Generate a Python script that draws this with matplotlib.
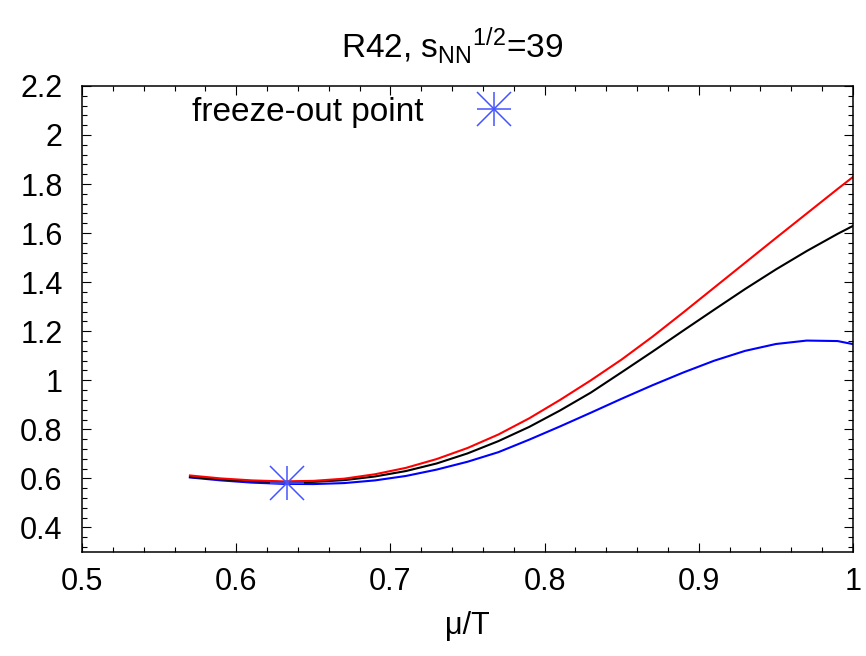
import numpy as np
import matplotlib.pyplot as plt
from matplotlib.ticker import MultipleLocator
from matplotlib.legend_handler import HandlerTuple

plt.rcParams['font.family'] = ['Liberation Sans', 'DejaVu Sans']
plt.rcParams['mathtext.fontset'] = 'custom'
plt.rcParams['mathtext.rm'] = 'Liberation Sans'

# mu/T grid and the three R42 curves
mu_T = [0.57, 0.59, 0.61, 0.63, 0.65, 0.67, 0.69, 0.71, 0.73, 0.75, 0.77, 0.79,
        0.81, 0.83, 0.85, 0.87, 0.89, 0.91, 0.93, 0.95, 0.97, 0.99, 1.01]
r42_red = [0.612, 0.600, 0.592, 0.588, 0.590, 0.599, 0.617, 0.643, 0.679, 0.724, 0.779, 0.845,
           0.920, 1.000, 1.085, 1.178, 1.277, 1.378, 1.479, 1.580, 1.680, 1.780, 1.878]
r42_black = [0.606, 0.596, 0.589, 0.585, 0.586, 0.593, 0.608, 0.630, 0.661, 0.702, 0.752, 0.810,
             0.877, 0.950, 1.033, 1.117, 1.203, 1.288, 1.372, 1.452, 1.527, 1.597, 1.662]
r42_blue = [0.604, 0.592, 0.583, 0.578, 0.577, 0.581, 0.592, 0.610, 0.636, 0.668, 0.707, 0.758,
            0.812, 0.868, 0.925, 0.980, 1.032, 1.080, 1.120, 1.148, 1.162, 1.160, 1.135]

# freeze-out point
fo_mu = [0.633]
fo_r42 = [0.583]

xticks = [0.5, 0.6, 0.7, 0.8, 0.9, 1.0]
xticklabels = ['0.5', '0.6', '0.7', '0.8', '0.9', '1']
yticks = [0.4, 0.6, 0.8, 1.0, 1.2, 1.4, 1.6, 1.8, 2.0, 2.2]
yticklabels = ['0.4', '0.6', '0.8', '1', '1.2', '1.4', '1.6', '1.8', '2', '2.2']

fig = plt.figure(figsize=(8.66, 6.56), dpi=100)
ax = fig.add_axes([0.0947, 0.1585, 0.8903, 0.7105])

ax.plot(mu_T, r42_blue, color='#0000ff', lw=1.5)
ax.plot(mu_T, r42_black, color='black', lw=1.5)
ax.plot(mu_T, r42_red, color='#ff0000', lw=1.5)

# asterisk = '+' and 'x' drawn on top of each other
star_col = '#4455ff'
p1, = ax.plot(fo_mu, fo_r42, ls='none', marker='+', ms=24, mew=1.1, color=star_col)
p2, = ax.plot(fo_mu, fo_r42, ls='none', marker='x', ms=24, mew=1.1, color=star_col)

ax.legend([(p1, p2)], ['freeze-out point'], handler_map={tuple: HandlerTuple(ndivide=1)},
          loc='center left', bbox_to_anchor=(0.143, 0.944), frameon=False,
          markerfirst=False, borderpad=0, borderaxespad=0,
          handlelength=2, handletextpad=1.1, fontsize=24)

ax.set_xlim(0.5, 1.0)
ax.set_ylim(0.3, 2.2)
ax.set_xticks(xticks)
ax.set_xticklabels(xticklabels)
ax.set_yticks(yticks)
ax.set_yticklabels(yticklabels)
ax.xaxis.set_minor_locator(MultipleLocator(0.02))
ax.yaxis.set_minor_locator(MultipleLocator(0.04))

ax.tick_params(which='both', direction='in', top=True, right=True, width=0.8)
ax.tick_params(which='major', length=6.5, labelsize=22)
ax.tick_params(which='minor', length=3.4)
ax.tick_params(axis='x', pad=11)
ax.tick_params(axis='y', pad=14)
for s in ax.spines.values():
    s.set_linewidth(1.1)

ax.set_xlabel('μ/T', fontsize=22, labelpad=10)
ax.set_title(r'R42, $\mathregular{s_{NN}{}^{1/2}}$=39', fontsize=24, pad=20, x=0.48)

fig.savefig('out.png', dpi=100)
